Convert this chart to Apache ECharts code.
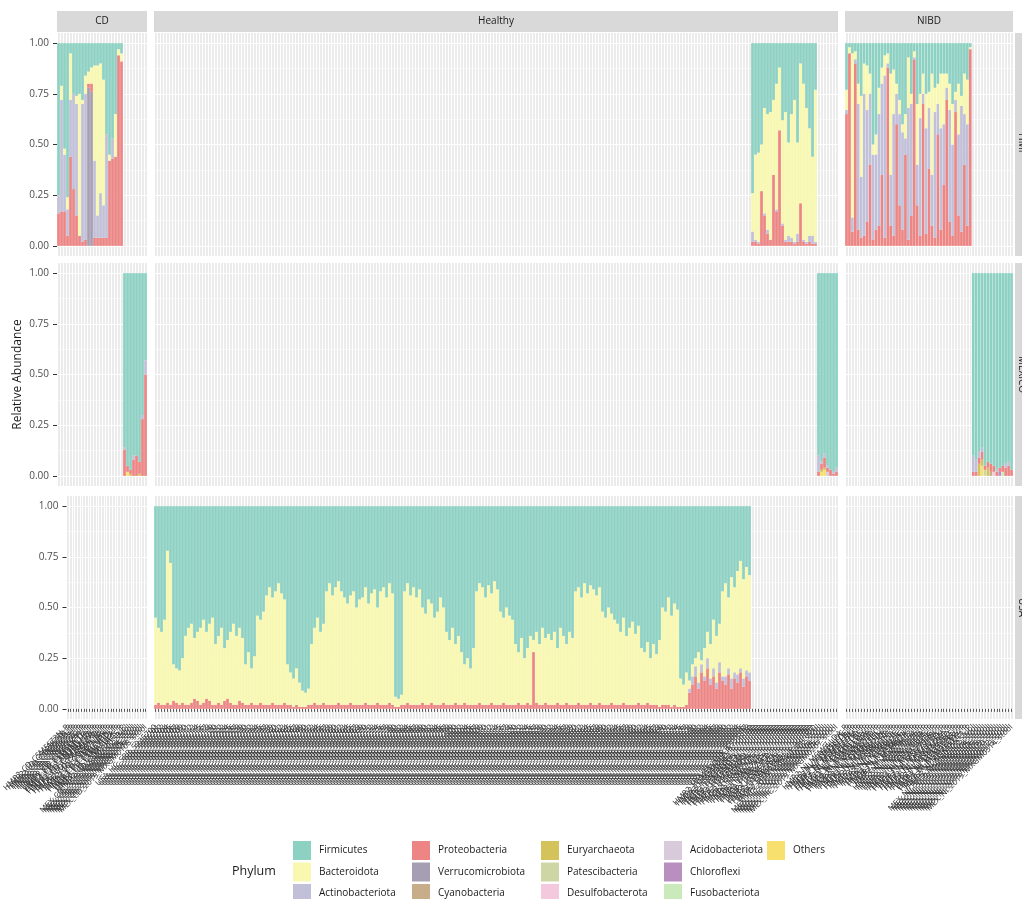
<!DOCTYPE html>
<html>
<head>
<meta charset="utf-8">
<script src="https://cdn.jsdelivr.net/npm/echarts@6/dist/echarts.min.js"></script>
<style>
  html, body { margin: 0; background: #fff; }
  #chart { width: 1022px; height: 899px; }
</style>
</head>
<body>
<div id="chart"></div>
<script>
// legend / factor order (ggplot stacks the first level on top)
const phyla = ['Firmicutes', 'Bacteroidota', 'Actinobacteriota', 'Proteobacteria', 'Verrucomicrobiota',
  'Cyanobacteria', 'Euryarchaeota', 'Patescibacteria', 'Desulfobacterota', 'Acidobacteriota',
  'Chloroflexi', 'Fusobacteriota', 'Others']
const phylaColors = ['#8dd1c3', '#f8f8b0', '#c2c0d8', '#ec8583', '#a69eb2', '#c8ad8a', '#d3c35a',
  '#cfd6a6', '#f4c9dd', '#d9cadb', '#b98fc0', '#cbeabb', '#f7e06d']

const colNames = ['CD', 'Healthy', 'NIBD']
const rowNames = ['HMP', 'MEXICO', 'USA']
const yTicks = [0, 25, 50, 75, 100]
const yMinor = [12.5, 37.5, 62.5, 87.5]

// sample ids (x categories)
const cdHmpIds = `HMP2_CD_CSM5FZ3N_P HMP2_CD_CSM5FZ3R_P HMP2_CD_CSM5FZ3T_P HMP2_CD_CSM5FZ3V_P HMP2_CD_CSM5FZ3X_P
HMP2_CD_CSM5FZ3Z_P HMP2_CD_CSM5FZ42_P HMP2_CD_CSM5FZ44_P HMP2_CD_CSM5MCTZ_P HMP2_CD_CSM5MCU4_P HMP2_CD_CSM5MCUO_P
HMP2_CD_CSM5MCVB_P HMP2_CD_CSM5MCW6_P HMP2_CD_CSM5MCXD_P HMP2_CD_CSM5MCY8_P HMP2_CD_CSM67UA2_P HMP2_CD_CSM67UB9_P
HMP2_CD_CSM67UBN_P HMP2_CD_CSM67UDJ_P HMP2_CD_CSM67UEA_P HMP2_CD_CSM67UGC_P HMP2_CD_CSM79HG5_P`.split(/\s+/)
const cdMexIds = `MEX_CD_2019_MXGM0101_stool MEX_CD_2019_MXGM0102_stool MEX_CD_2019_MXGM0103_stool MEX_CD_2019_MXGM0104_stool
MEX_CD_2019_MXGM0105_stool MEX_CD_2019_MXGM0106_stool MEX_CD_2019_MXGM0107_stool MEX_CD_2019_MXGM0108_stool`.split(/\s+/)
const usaIds = `USA_HC_SRR_5935700 USA_HC_SRR_5935701 USA_HC_SRR_5935702 USA_HC_SRR_5935703 USA_HC_SRR_5935704 USA_HC_SRR_5935705 USA_HC_SRR_5935706 USA_HC_SRR_5935707 USA_HC_SRR_5935708 USA_HC_SRR_5935709
USA_HC_SRR_5935710 USA_HC_SRR_5935711 USA_HC_SRR_5935712 USA_HC_SRR_5935713 USA_HC_SRR_5935714 USA_HC_SRR_5935715 USA_HC_SRR_5935716 USA_HC_SRR_5935717 USA_HC_SRR_5935718 USA_HC_SRR_5935719
USA_HC_SRR_5935720 USA_HC_SRR_5935721 USA_HC_SRR_5935722 USA_HC_SRR_5935723 USA_HC_SRR_5935724 USA_HC_SRR_5935725 USA_HC_SRR_5935726 USA_HC_SRR_5935727 USA_HC_SRR_5935728 USA_HC_SRR_5935729
USA_HC_SRR_5935730 USA_HC_SRR_5935731 USA_HC_SRR_5935732 USA_HC_SRR_5935733 USA_HC_SRR_5935734 USA_HC_SRR_5935735 USA_HC_SRR_5935736 USA_HC_SRR_5935737 USA_HC_SRR_5935738 USA_HC_SRR_5935739
USA_HC_SRR_5935740 USA_HC_SRR_5935741 USA_HC_SRR_5935742 USA_HC_SRR_5935743 USA_HC_SRR_5935744 USA_HC_SRR_5935745 USA_HC_SRR_5935746 USA_HC_SRR_5935747 USA_HC_SRR_5935748 USA_HC_SRR_5935749
USA_HC_SRR_5935750 USA_HC_SRR_5935751 USA_HC_SRR_5935752 USA_HC_SRR_5935753 USA_HC_SRR_5935754 USA_HC_SRR_5935755 USA_HC_SRR_5935756 USA_HC_SRR_5935757 USA_HC_SRR_5935758 USA_HC_SRR_5935759
USA_HC_SRR_5935760 USA_HC_SRR_5935761 USA_HC_SRR_5935762 USA_HC_SRR_5935763 USA_HC_SRR_5935764 USA_HC_SRR_5935765 USA_HC_SRR_5935766 USA_HC_SRR_5935767 USA_HC_SRR_5935768 USA_HC_SRR_5935769
USA_HC_SRR_5935770 USA_HC_SRR_5935771 USA_HC_SRR_5935772 USA_HC_SRR_5935773 USA_HC_SRR_5935774 USA_HC_SRR_5935775 USA_HC_SRR_5935776 USA_HC_SRR_5935777 USA_HC_SRR_5935778 USA_HC_SRR_5935779
USA_HC_SRR_5935780 USA_HC_SRR_5935781 USA_HC_SRR_5935782 USA_HC_SRR_5935783 USA_HC_SRR_5935784 USA_HC_SRR_5935785 USA_HC_SRR_5935786 USA_HC_SRR_5935787 USA_HC_SRR_5935788 USA_HC_SRR_5935789
USA_HC_SRR_5935790 USA_HC_SRR_5935791 USA_HC_SRR_5935792 USA_HC_SRR_5935793 USA_HC_SRR_5935794 USA_HC_SRR_5935795 USA_HC_SRR_5935796 USA_HC_SRR_5935797 USA_HC_SRR_5935798 USA_HC_SRR_5935799
USA_HC_SRR_5935800 USA_HC_SRR_5935801 USA_HC_SRR_5935802 USA_HC_SRR_5935803 USA_HC_SRR_5935804 USA_HC_SRR_5935805 USA_HC_SRR_5935806 USA_HC_SRR_5935807 USA_HC_SRR_5935808 USA_HC_SRR_5935809
USA_HC_SRR_5935810 USA_HC_SRR_5935811 USA_HC_SRR_5935812 USA_HC_SRR_5935813 USA_HC_SRR_5935814 USA_HC_SRR_5935815 USA_HC_SRR_5935816 USA_HC_SRR_5935817 USA_HC_SRR_5935818 USA_HC_SRR_5935819
USA_HC_SRR_5935820 USA_HC_SRR_5935821 USA_HC_SRR_5935822 USA_HC_SRR_5935823 USA_HC_SRR_5935824 USA_HC_SRR_5935825 USA_HC_SRR_5935826 USA_HC_SRR_5935827 USA_HC_SRR_5935828 USA_HC_SRR_5935829
USA_HC_SRR_5935830 USA_HC_SRR_5935831 USA_HC_SRR_5935832 USA_HC_SRR_5935833 USA_HC_SRR_5935834 USA_HC_SRR_5935835 USA_HC_SRR_5935836 USA_HC_SRR_5935837 USA_HC_SRR_5935838 USA_HC_SRR_5935839
USA_HC_SRR_5935840 USA_HC_SRR_5935841 USA_HC_SRR_5935842 USA_HC_SRR_5935843 USA_HC_SRR_5935844 USA_HC_SRR_5935845 USA_HC_SRR_5935846 USA_HC_SRR_5935847 USA_HC_SRR_5935848 USA_HC_SRR_5935849
USA_HC_SRR_5935850 USA_HC_SRR_5935851 USA_HC_SRR_5935852 USA_HC_SRR_5935853 USA_HC_SRR_5935854 USA_HC_SRR_5935855 USA_HC_SRR_5935856 USA_HC_SRR_5935857 USA_HC_SRR_5935858 USA_HC_SRR_5935859
USA_HC_SRR_5935860 USA_HC_SRR_5935861 USA_HC_SRR_5935862 USA_HC_SRR_5935863 USA_HC_SRR_5935864 USA_HC_SRR_5935865 USA_HC_SRR_5935866 USA_HC_SRR_5935867 USA_HC_SRR_5935868 USA_HC_SRR_5935869
USA_HC_SRR_5935870 USA_HC_SRR_5935871 USA_HC_SRR_5935872 USA_HC_SRR_5935873 USA_HC_SRR_5935874 USA_HC_SRR_5935875 USA_HC_SRR_5935876 USA_HC_SRR_5935877 USA_HC_SRR_5935878 USA_HC_SRR_5935879
USA_HC_SRR_5935880 USA_HC_SRR_5935881 USA_HC_SRR_5935882 USA_HC_SRR_5935883 USA_HC_SRR_5935884 USA_HC_SRR_5935885 USA_HC_SRR_5935886 USA_HC_SRR_5935887 USA_HC_SRR_5935888 USA_HC_SRR_5935889
USA_HC_SRR_5935890 USA_HC_SRR_5935891 USA_HC_SRR_5935892 USA_HC_SRR_5935893 USA_HC_SRR_5935894 USA_HC_SRR_5935895 USA_HC_SRR_5935896 USA_HC_SRR_5935897 USA_HC_SRR_5935898`.split(/\s+/)
const hlHmpIds = `HMP2_HSM5MD5B_P_nonIBD HMP2_HSM5MD5D_P_nonIBD HMP2_HSM5MD62_P_nonIBD HMP2_HSM5MD6A_P_nonIBD HMP2_HSM5MD73_P_nonIBD
HMP2_HSM5MD7N_P_nonIBD HMP2_HSM5MD8A_P_nonIBD HMP2_HSM5MD8Q_P_nonIBD HMP2_HSM5MD91_P_nonIBD HMP2_HSM5MD9F_P_nonIBD
HMP2_HSM67VDS_P_nonIBD HMP2_HSM67VDT_P_nonIBD HMP2_HSM67VDX_P_nonIBD HMP2_HSM67VF5_P_nonIBD HMP2_HSM67VF9_P_nonIBD
HMP2_HSM67VFD_P_nonIBD HMP2_HSM67VFJ_P_nonIBD HMP2_HSM67VGK_P_nonIBD HMP2_HSM6XRQB_P_nonIBD HMP2_HSM6XRQE_P_nonIBD
HMP2_HSM6XRQI_P_nonIBD HMP2_HSM6XRR3_P_nonIBD`.split(/\s+/)
const hlMexIds = `MEX_HC_2019_MXGM0201_stool MEX_HC_2019_MXGM0202_stool MEX_HC_2019_MXGM0203_stool MEX_HC_2019_MXGM0204_stool
MEX_HC_2019_MXGM0205_stool MEX_HC_2019_MXGM0206_stool MEX_HC_2019_MXGM0207_stool`.split(/\s+/)
const nbHmpIds = `HMP2_NI_MSM5LLDA_P HMP2_NI_MSM5LLDC_P HMP2_NI_MSM5LLDE_P HMP2_NI_MSM5LLDI_P HMP2_NI_MSM5LLDK_P HMP2_NI_MSM5LLDM_P
HMP2_NI_MSM5LLDO_P HMP2_NI_MSM5LLDS_P HMP2_NI_MSM5LLDU_P HMP2_NI_MSM5LLDW_P HMP2_NI_MSM6J2HB_P HMP2_NI_MSM6J2HD_P
HMP2_NI_MSM6J2HH_P HMP2_NI_MSM6J2HL_P HMP2_NI_MSM6J2HN_P HMP2_NI_MSM6J2HP_P HMP2_NI_MSM6J2HR_P HMP2_NI_MSM6J2HT_P
HMP2_NI_MSM6J2IA_P HMP2_NI_MSM6J2IC_P HMP2_NI_MSM6J2IE_P HMP2_NI_MSM6J2IG_P HMP2_NI_MSM6J2II_P HMP2_NI_MSM6J2IK_P
HMP2_NI_MSM79H52_P HMP2_NI_MSM79H54_P HMP2_NI_MSM79H56_P HMP2_NI_MSM79H58_P HMP2_NI_MSM79H5A_P HMP2_NI_MSM79H5C_P
HMP2_NI_MSM79H5E_P HMP2_NI_MSM79H5G_P HMP2_NI_MSM79H5I_P HMP2_NI_MSM79H5K_P HMP2_NI_MSM9VZEK_P HMP2_NI_MSM9VZEM_P
HMP2_NI_MSM9VZEO_P HMP2_NI_MSM9VZEQ_P HMP2_NI_MSM9VZES_P HMP2_NI_MSM9VZEU_P HMP2_NI_MSM9VZEW_P HMP2_NI_MSM9VZEY_P
HMP2_NI_MSM9VZF1_P`.split(/\s+/)
const nbMexIds = `MEX_NI_2019_MXGM0301_stool MEX_NI_2019_MXGM0302_stool MEX_NI_2019_MXGM0303_stool MEX_NI_2019_MXGM0304_stool
MEX_NI_2019_MXGM0305_stool MEX_NI_2019_MXGM0306_stool MEX_NI_2019_MXGM0307_stool MEX_NI_2019_MXGM0308_stool
MEX_NI_2019_MXGM0309_stool MEX_NI_2019_MXGM0310_stool MEX_NI_2019_MXGM0311_stool MEX_NI_2019_MXGM0312_stool
MEX_NI_2019_MXGM0313_stool MEX_NI_2019_MXGM0314_stool`.split(/\s+/)

// relative abundance, percent of each sample
// CD / HMP
const cdHmpVerr = [0, 0, 0, 0, 0, 0, 0, 0, 0, 0, 78, 76, 0, 0, 0, 0, 0, 0, 0, 0, 0, 0]
const cdHmpProt = [16, 17, 17, 5, 44, 28, 15, 5, 2, 3, 2, 4, 4, 4, 4, 4, 4, 42, 43, 44, 94, 91]
const cdHmpAct = [9, 55, 28, 13, 28, 47, 55, 0, 68, 72, 0, 0, 38, 11, 22, 16, 51, 0, 10, 0, 0, 0]
const cdHmpBact = [0, 7, 3, 6, 23, 0, 4, 70, 2, 9, 6, 8, 47, 74, 64, 62, 0, 3, 0, 21, 3, 4]
const cdHmpFirm = [75, 21, 52, 76, 5, 25, 26, 25, 28, 16, 14, 12, 11, 11, 10, 18, 45, 55, 47, 35, 3, 5]
// CD / MEXICO
const cdMexOth = [0, 2, 0, 0, 0, 0, 0, 0]
const cdMexEury = [0, 0, 1, 0, 0, 1, 0, 0]
const cdMexProt = [13, 3, 2, 8, 10, 6, 28, 50]
const cdMexAct = [1, 0, 0, 2, 0, 0, 2, 7]
const cdMexFirm = [86, 95, 97, 90, 90, 93, 70, 43]
// Healthy / USA
const usaProt = [2, 3, 2, 2, 3, 2, 4, 3, 2, 3, 2, 2, 3, 5, 4, 2, 3, 5, 4, 2,
  2, 3, 2, 4, 5, 3, 2, 2, 4, 3, 2, 2, 3, 2, 2, 3, 2, 2, 2, 3,
  2, 2, 2, 3, 2, 2, 1, 2, 1, 1, 1, 2, 2, 3, 2, 2, 3, 2, 2, 2,
  2, 3, 2, 2, 2, 3, 2, 2, 2, 2, 3, 2, 2, 2, 3, 2, 2, 2, 3, 2,
  1, 1, 2, 2, 3, 2, 2, 2, 2, 3, 2, 2, 3, 2, 2, 2, 3, 2, 2, 2,
  3, 2, 2, 3, 2, 2, 2, 2, 3, 2, 2, 2, 3, 2, 2, 2, 3, 2, 2, 2,
  2, 3, 2, 2, 3, 2, 28, 3, 2, 2, 3, 2, 2, 2, 3, 2, 2, 3, 2, 2,
  2, 3, 2, 2, 2, 3, 2, 2, 3, 2, 2, 2, 3, 2, 2, 2, 3, 2, 2, 2,
  2, 3, 2, 2, 3, 2, 2, 2, 1, 2, 2, 2, 1, 2, 1, 1, 1, 2, 8, 12,
  16, 10, 18, 14, 20, 12, 16, 10, 18, 14, 12, 17, 10, 15, 13, 18, 11, 16, 14]
const usaAct = [0, 0, 0, 0, 0, 0, 0, 0, 0, 0, 0, 0, 0, 0, 0, 0, 0, 0, 0, 0,
  0, 0, 0, 0, 0, 0, 0, 0, 0, 0, 0, 0, 0, 0, 0, 0, 0, 0, 0, 0,
  0, 0, 0, 0, 0, 0, 0, 0, 0, 0, 0, 0, 0, 0, 0, 0, 0, 0, 0, 0,
  0, 0, 0, 0, 0, 0, 0, 0, 0, 0, 0, 0, 0, 0, 0, 0, 0, 0, 0, 0,
  0, 0, 0, 0, 0, 0, 0, 0, 0, 0, 0, 0, 0, 0, 0, 0, 0, 0, 0, 0,
  0, 0, 0, 0, 0, 0, 0, 0, 0, 0, 0, 0, 0, 0, 0, 0, 0, 0, 0, 0,
  0, 0, 0, 0, 0, 0, 0, 0, 0, 0, 0, 0, 0, 0, 0, 0, 0, 0, 0, 0,
  0, 0, 0, 0, 0, 0, 0, 0, 0, 0, 0, 0, 0, 0, 0, 0, 0, 0, 0, 0,
  0, 0, 0, 0, 0, 0, 0, 0, 0, 0, 0, 0, 0, 0, 0, 0, 0, 0, 2, 4,
  5, 3, 4, 2, 5, 3, 4, 3, 5, 2, 4, 3, 5, 3, 4, 2, 4, 3, 4]
const usaBact = [43, 37, 36, 42, 75, 70, 18, 17, 17, 22, 34, 38, 39, 30, 34, 38, 41, 33, 38, 43,
  30, 33, 38, 26, 29, 35, 40, 34, 36, 32, 20, 26, 17, 24, 44, 41, 46, 54, 58, 52,
  56, 60, 55, 51, 20, 16, 14, 18, 12, 8, 7, 8, 30, 37, 43, 36, 39, 56, 60, 54,
  58, 60, 56, 53, 50, 53, 56, 48, 52, 53, 57, 50, 55, 57, 47, 56, 58, 53, 59, 55,
  5, 4, 5, 56, 59, 54, 58, 53, 57, 47, 45, 52, 49, 43, 46, 53, 47, 36, 32, 38,
  29, 34, 26, 19, 23, 18, 28, 56, 59, 58, 53, 59, 54, 61, 57, 46, 42, 48, 44, 42,
  30, 25, 33, 23, 27, 34, 6, 35, 30, 38, 32, 35, 32, 36, 27, 38, 34, 29, 36, 33,
  56, 57, 53, 60, 55, 58, 57, 54, 57, 46, 43, 48, 44, 42, 40, 36, 42, 34, 38, 41,
  35, 38, 28, 26, 30, 23, 30, 25, 33, 48, 46, 53, 45, 50, 48, 14, 11, 16, 4, 6,
  4, 15, 2, 14, 13, 17, 24, 23, 19, 42, 46, 35, 50, 42, 51, 53, 49, 51, 48]
const usaFirm = [55, 60, 62, 56, 22, 28, 78, 80, 81, 75, 64, 60, 58, 65, 62, 60, 56, 62, 58, 55,
  68, 64, 60, 70, 66, 62, 58, 64, 60, 65, 78, 72, 80, 74, 54, 56, 52, 44, 40, 45,
  42, 38, 43, 46, 78, 82, 85, 80, 87, 91, 92, 90, 68, 60, 55, 62, 58, 42, 38, 44,
  40, 37, 42, 45, 48, 44, 42, 50, 46, 45, 40, 48, 43, 41, 50, 42, 40, 45, 38, 43,
  94, 95, 93, 42, 38, 44, 40, 45, 41, 50, 53, 46, 48, 55, 52, 45, 50, 62, 66, 60,
  68, 64, 72, 78, 75, 80, 70, 42, 38, 40, 45, 39, 43, 37, 41, 52, 55, 50, 54, 56,
  68, 72, 65, 75, 70, 64, 66, 62, 68, 60, 65, 63, 66, 62, 70, 60, 64, 68, 62, 65,
  42, 40, 45, 38, 43, 39, 41, 44, 40, 52, 55, 50, 53, 56, 58, 62, 55, 64, 60, 57,
  63, 59, 70, 72, 67, 75, 68, 73, 66, 50, 52, 45, 54, 48, 51, 85, 88, 82, 86, 78,
  75, 72, 76, 70, 62, 68, 56, 64, 58, 42, 38, 45, 35, 40, 32, 27, 36, 30, 34]
// Healthy / HMP
const hlHmpProt = [2, 2, 1, 27, 15, 6, 3, 35, 17, 57, 10, 2, 2, 2, 1, 2, 21, 2, 1, 2, 1, 1]
const hlHmpAct = [5, 1, 1, 0, 1, 2, 0, 0, 1, 0, 1, 1, 3, 2, 1, 4, 0, 1, 1, 3, 4, 1]
const hlHmpBact = [19, 42, 44, 23, 52, 57, 63, 37, 62, 31, 51, 63, 46, 61, 70, 45, 69, 77, 66, 53, 39, 75]
const hlHmpFirm = [74, 55, 54, 50, 32, 35, 34, 28, 20, 12, 38, 34, 49, 35, 28, 49, 10, 20, 32, 42, 56, 23]
// Healthy / MEXICO
const hlMexOth = [0, 2, 3, 0, 0, 0, 0]
const hlMexAcid = [0, 0, 0, 2, 0, 0, 0]
const hlMexEury = [0, 1, 1, 0, 0, 0, 0]
const hlMexProt = [2, 3, 5, 2, 3, 1, 2]
const hlMexAct = [8, 1, 2, 1, 0, 1, 2]
const hlMexFirm = [90, 93, 89, 95, 97, 98, 96]
// NIBD / HMP
const nbHmpProt = [65, 95, 7, 90, 8, 4, 5, 12, 40, 3, 8, 10, 35, 4, 88, 10, 5, 60, 20, 8,
  45, 3, 15, 92, 20, 5, 70, 6, 38, 10, 4, 55, 8, 30, 72, 12, 5, 66, 15, 7, 40, 10, 97]
const nbHmpAct = [2, 0, 7, 2, 62, 30, 70, 55, 35, 42, 37, 55, 45, 80, 2, 25, 60, 15, 45, 48,
  8, 65, 55, 1, 20, 58, 5, 52, 30, 25, 62, 15, 50, 30, 6, 55, 45, 6, 40, 62, 25, 50, 0]
const nbHmpBact = [10, 3, 81, 4, 10, 40, 15, 22, 10, 5, 10, 13, 8, 10, 5, 50, 22, 5, 7, 4,
  12, 25, 5, 3, 30, 12, 10, 17, 8, 50, 12, 10, 27, 25, 7, 13, 20, 4, 25, 5, 20, 22, 1]
const nbHmpFirm = [23, 2, 5, 4, 20, 26, 10, 11, 15, 50, 45, 22, 12, 6, 5, 15, 13, 20, 28, 40,
  35, 7, 25, 4, 30, 25, 15, 25, 24, 15, 22, 20, 15, 15, 15, 20, 30, 24, 20, 26, 15, 18, 2]
// NIBD / MEXICO
const nbMexOth = [0, 0, 0, 5, 0, 0, 0, 0, 0, 0, 0, 0, 0, 0]
const nbMexFuso = [0, 0, 0, 0, 0, 0, 0, 0, 0, 0, 2, 0, 0, 0]
const nbMexChlo = [0, 0, 0, 0, 0, 0, 0, 0, 0, 2, 0, 0, 0, 0]
const nbMexDesu = [0, 0, 0, 0, 0, 0, 0, 2, 0, 0, 0, 0, 0, 0]
const nbMexPate = [0, 0, 0, 0, 3, 0, 0, 0, 0, 0, 0, 0, 0, 0]
const nbMexEury = [0, 0, 6, 3, 0, 4, 0, 0, 0, 0, 0, 0, 0, 0]
const nbMexCyan = [0, 0, 0, 0, 0, 0, 2, 0, 0, 0, 0, 0, 0, 0]
const nbMexProt = [2, 2, 3, 4, 2, 3, 4, 3, 2, 2, 3, 4, 5, 3]
const nbMexAct = [8, 6, 3, 2, 0, 0, 0, 0, 1, 0, 0, 2, 2, 0]
const nbMexFirm = [90, 92, 88, 86, 95, 93, 94, 95, 97, 96, 95, 94, 93, 97]

// layout
const font = '"Open Sans", "Noto Sans", sans-serif'
const colLeft = [57, 154, 845]
const colWidth = [90, 684, 168]
const rowTop = [33, 263, 496]
const rowHeight = 223

const colSamples = [
  cdHmpIds.concat(cdMexIds),
  usaIds.concat(hlHmpIds, hlMexIds),
  nbHmpIds.concat(nbMexIds)
]

const groups = [
  { row: 0, col: 0, offset: 0, parts: { Verrucomicrobiota: cdHmpVerr, Proteobacteria: cdHmpProt, Actinobacteriota: cdHmpAct, Bacteroidota: cdHmpBact, Firmicutes: cdHmpFirm } },
  { row: 1, col: 0, offset: cdHmpIds.length, parts: { Others: cdMexOth, Euryarchaeota: cdMexEury, Proteobacteria: cdMexProt, Actinobacteriota: cdMexAct, Firmicutes: cdMexFirm } },
  { row: 2, col: 1, offset: 0, parts: { Proteobacteria: usaProt, Actinobacteriota: usaAct, Bacteroidota: usaBact, Firmicutes: usaFirm } },
  { row: 0, col: 1, offset: usaIds.length, parts: { Proteobacteria: hlHmpProt, Actinobacteriota: hlHmpAct, Bacteroidota: hlHmpBact, Firmicutes: hlHmpFirm } },
  { row: 1, col: 1, offset: usaIds.length + hlHmpIds.length, parts: { Others: hlMexOth, Acidobacteriota: hlMexAcid, Euryarchaeota: hlMexEury, Proteobacteria: hlMexProt, Actinobacteriota: hlMexAct, Firmicutes: hlMexFirm } },
  { row: 0, col: 2, offset: 0, parts: { Proteobacteria: nbHmpProt, Actinobacteriota: nbHmpAct, Bacteroidota: nbHmpBact, Firmicutes: nbHmpFirm } },
  { row: 1, col: 2, offset: nbHmpIds.length, parts: { Others: nbMexOth, Fusobacteriota: nbMexFuso, Chloroflexi: nbMexChlo, Desulfobacterota: nbMexDesu, Patescibacteria: nbMexPate, Euryarchaeota: nbMexEury, Cyanobacteria: nbMexCyan, Proteobacteria: nbMexProt, Actinobacteriota: nbMexAct, Firmicutes: nbMexFirm } }
]

const grid = []
const xAxis = []
const yAxis = []
for (let r = 0; r < 3; r++) {
  for (let c = 0; c < 3; c++) {
    const p = r * 3 + c
    grid.push({ left: colLeft[c], top: rowTop[r], width: colWidth[c], height: rowHeight, show: true, backgroundColor: '#ebebeb', borderWidth: 0 })
    xAxis.push({
      gridIndex: p, type: 'category', data: colSamples[c],
      axisLine: { show: false },
      axisTick: { show: r === 2, alignWithLabel: true, interval: 0, length: 3, lineStyle: { color: '#333', width: 0.8 } },
      axisLabel: { show: r === 2, interval: 0, rotate: 45, fontSize: 8, color: '#333', margin: 7, fontFamily: font },
      splitLine: { show: true, interval: 0, lineStyle: { color: '#fff', width: 1 } }
    })
    yAxis.push({
      gridIndex: p, type: 'value', min: -5, max: 105,
      axisLine: { show: false },
      axisTick: { show: c === 0, customValues: yTicks, length: 4, lineStyle: { color: '#333' } },
      axisLabel: { show: c === 0, customValues: yTicks, formatter: v => (v / 100).toFixed(2), fontSize: 10, color: '#4d4d4d', margin: 8, fontFamily: font },
      splitLine: { show: true, lineStyle: { color: '#fff', width: 1 } },
      name: (r === 1 && c === 0) ? 'Relative Abundance' : '',
      nameLocation: 'middle', nameGap: 33,
      nameTextStyle: { fontSize: 12, color: '#1a1a1a', fontFamily: font }
    })
    yAxis.push({
      gridIndex: p, type: 'value', min: -5, max: 105,
      axisLine: { show: false }, axisLabel: { show: false },
      axisTick: { show: false, customValues: yMinor },
      splitLine: { show: true, lineStyle: { color: '#fff', width: 0.5 } }
    })
  }
}

const stackOrder = phyla.slice().reverse()
const series = []
groups.forEach(g => {
  const p = g.row * 3 + g.col
  const n = colSamples[g.col].length
  stackOrder.forEach(name => {
    const vals = g.parts[name]
    if (!vals) return
    const data = new Array(n).fill('-')
    vals.forEach((v, i) => { data[g.offset + i] = v })
    series.push({
      type: 'bar', name, data, stack: 'panel' + p,
      xAxisIndex: p, yAxisIndex: p * 2,
      barCategoryGap: '10%',
      itemStyle: { color: phylaColors[phyla.indexOf(name)] },
      silent: true
    })
  })
})

const legendCols = [
  ['Firmicutes', 'Bacteroidota', 'Actinobacteriota'],
  ['Proteobacteria', 'Verrucomicrobiota', 'Cyanobacteria'],
  ['Euryarchaeota', 'Patescibacteria', 'Desulfobacterota'],
  ['Acidobacteriota', 'Chloroflexi', 'Fusobacteriota'],
  ['Others']
]
const legendLeft = [288, 407, 536, 659, 762]
const legend = legendCols.map((names, i) => ({
  data: names, left: legendLeft[i], top: 836, height: 80, orient: 'vertical',
  icon: 'rect', itemWidth: 18, itemHeight: 19, itemGap: 2.5, selectedMode: false,
  textStyle: { fontSize: 10, color: '#1a1a1a', fontFamily: font, padding: [0, 0, 0, 3] }
}))

const graphic = []
colNames.forEach((name, c) => {
  graphic.push({ type: 'rect', shape: { x: colLeft[c], y: 11, width: colWidth[c], height: 21 }, style: { fill: '#d9d9d9' } })
  graphic.push({ type: 'text', x: colLeft[c] + colWidth[c] / 2, y: 21.5, style: { text: name, fontSize: 10, fill: '#1a1a1a', fontFamily: font, align: 'center', verticalAlign: 'middle' } })
})
rowNames.forEach((name, r) => {
  graphic.push({ type: 'rect', shape: { x: 1015, y: rowTop[r], width: 24, height: rowHeight }, style: { fill: '#d9d9d9' } })
  graphic.push({ type: 'text', x: 1022, y: rowTop[r] + rowHeight / 2, rotation: -Math.PI / 2, style: { text: name, fontSize: 10, fill: '#1a1a1a', fontFamily: font, align: 'center', verticalAlign: 'middle' } })
})
graphic.push({ type: 'text', x: 232, y: 871, style: { text: 'Phylum', fontSize: 12.5, fill: '#1a1a1a', fontFamily: font, verticalAlign: 'middle' } })

const chart = echarts.init(document.getElementById('chart'), null, { renderer: 'canvas' })
chart.setOption({
  animation: false,
  backgroundColor: '#fff',
  textStyle: { fontFamily: font },
  grid, xAxis, yAxis, series, legend, graphic
})
</script>
</body>
</html>
